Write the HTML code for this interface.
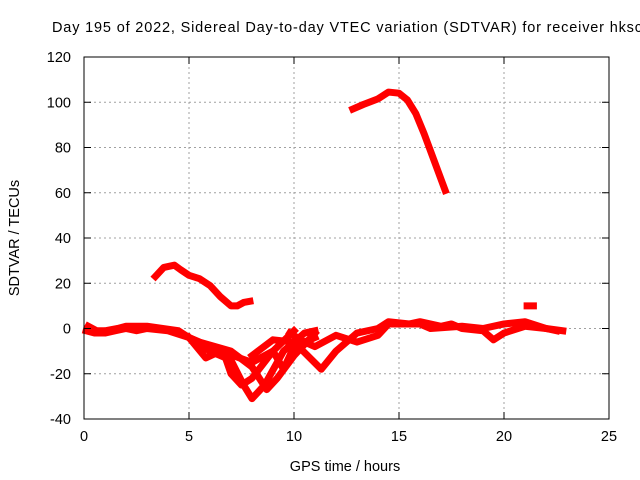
<!DOCTYPE html>
<html><head><meta charset="utf-8"><style>
body{margin:0;background:#fff}
svg{display:block;font-family:"Liberation Sans",sans-serif}
</style></head><body>
<svg id="chart" width="640" height="480" viewBox="0 0 640 480">
<rect width="640" height="480" fill="#fff"/>
<text x="52" y="32" font-size="14.5" textLength="590" lengthAdjust="spacing" fill="#000">Day 195 of 2022, Sidereal Day-to-day VTEC variation (SDTVAR) for receiver hksc</text>
<g id="grid"></g><g id="series"></g><g id="axes"></g>
<text x="345" y="471" font-size="14.5" text-anchor="middle">GPS time / hours</text>
<text transform="translate(19,238) rotate(-90)" font-size="14.5" text-anchor="middle">SDTVAR / TECUs</text>
</svg>
<script>
const xTicks=[0,5,10,15,20,25];
const yTicks=[-40,-20,0,20,40,60,80,100,120];
const trackHigh=[[12.8,97],[13.3,99],[14,101.5],[14.5,104.5],[15,104],[15.4,101],[15.8,95],[16.2,86],[16.6,76],[17,66],[17.2,61]];
const trackMid=[[3.4,23],[3.8,27],[4.3,28],[4.6,26],[5,23.5],[5.5,22],[6,19],[6.5,14],[7,10],[7.3,10],[7.6,11.5],[7.9,12]];
const trackBase1=[[0.1,-1],[0.5,-2],[1,-2],[1.5,-1],[2,0],[2.5,-1],[3,0],[4,-1],[5,-4],[5.5,-6],[6,-8],[6.7,-12],[7,-20],[7.5,-25],[8,-22],[9,-10],[10,-1]];
const trackBase2=[[0.2,1],[0.6,-1],[1,-1],[1.6,0],[2,1],[3,1],[4.5,-1],[5.5,-7],[6,-10],[7,-14],[7.6,-25],[8,-31],[8.6,-25],[9.5,-10],[10.5,-2],[11,-1]];
const trackBase3=[[4.5,-2],[5.5,-6],[7,-10],[8,-17],[8.7,-27],[9.2,-22],[10,-12],[11,-2]];
const trackBase4=[[5,-4],[5.8,-13],[6.5,-10],[8,-15],[9,-10],[9.5,-18],[10,-8],[11,-4]];
const trackBase5=[[8,-12],[9,-5],[10,-6],[11.3,-18],[12,-10],[13,-2],[14,0],[14.5,3],[15.5,2],[16,3],[17,1],[17.5,2],[18,0],[19,-1],[19.5,-5],[20,-2],[21,1],[22,0],[22.8,-1]];
const trackBase6=[[9.8,-2],[10.5,-6],[11,-8],[12,-3],[13,-6],[14,-3],[14.5,2],[16,2],[16.5,0],[18,1],[19,0],[20,2],[21,3],[22,0],[22.5,-1]];
const trackBlob=[[21.1,10],[21.4,10]];
const tracks=[trackHigh,trackMid,trackBase1,trackBase2,trackBase3,trackBase4,trackBase5,trackBase6,trackBlob];
const X0=84,X1=609,Y0=419,Y1=57;
const sx=v=>X0+(v-0)/25*(X1-X0);
const sy=v=>Y0-(v+40)/160*(Y0-Y1);
const NS="http://www.w3.org/2000/svg";
function mk(t,a,p){const e=document.createElementNS(NS,t);for(const k in a)e.setAttribute(k,a[k]);p.appendChild(e);return e;}
const grid=document.getElementById('grid'),axes=document.getElementById('axes'),ser=document.getElementById('series');
xTicks.forEach(v=>{const x=sx(v);
 if(v>0&&v<25){const g=mk('line',{x1:x,x2:x,y1:Y1,y2:Y0,stroke:'#a0a0a0','stroke-dasharray':'2,3'},grid);
 
 }
 mk('line',{x1:x,x2:x,y1:Y0,y2:Y0-7,stroke:'#000'},axes);
 mk('line',{x1:x,x2:x,y1:Y1,y2:Y1+7,stroke:'#000'},axes);
 const t=mk('text',{x:x,y:Y0+22,'font-size':14.5,'text-anchor':'middle'},axes);t.textContent=v;
 
 
});
yTicks.forEach(v=>{const y=sy(v);
 if(v>-40&&v<120){const g=mk('line',{x1:X0,x2:X1,y1:y,y2:y,stroke:'#a0a0a0','stroke-dasharray':'2,3'},grid);
 
 }
 mk('line',{x1:X0,x2:X0+7,y1:y,y2:y,stroke:'#000'},axes);
 mk('line',{x1:X1,x2:X1-7,y1:y,y2:y,stroke:'#000'},axes);
 const t=mk('text',{x:X0-13,y:y+5,'font-size':14.5,'text-anchor':'end'},axes);t.textContent=v;
 
 
});
const fr=mk('rect',{x:X0,y:Y1,width:X1-X0,height:Y0-Y1,fill:'none',stroke:'#000'},axes);


tracks.forEach(tr=>{
 const p=mk('polyline',{points:tr.map(d=>sx(d[0])+','+sy(d[1])).join(' '),fill:'none',stroke:'#ff0000','stroke-width':7,'stroke-linejoin':'round','stroke-linecap':'square'},ser);
 
 
});
</script>
</body></html>
